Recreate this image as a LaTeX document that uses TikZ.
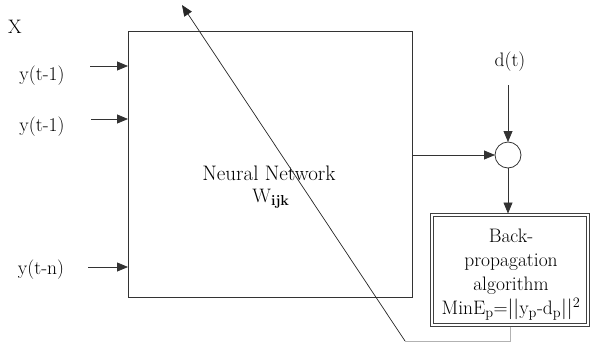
\documentclass[tikz,border=0pt]{standalone}
\usetikzlibrary{arrows.meta}
\begin{document}
\begin{tikzpicture}[x=1pt,y=-1pt,
  every node/.style={inner sep=0pt, outer sep=0pt},
  txt/.style={font=\fontsize{19.5}{24}\selectfont, text=black},
  bigtxt/.style={font=\fontsize{21}{24}\selectfont, text=black},
  wire/.style={line width=0.8pt, draw=black!80},
  arr/.style={wire, -{Triangle[length=11pt,width=9pt]}},
  netbox/.style={draw=black!80, line width=0.8pt, minimum width=284pt, minimum height=266pt},
  sumnode/.style={circle, draw=black!80, line width=0.8pt, minimum size=26pt},
  bpbox/.style={draw=black!75, line width=0.7pt, minimum width=159pt, minimum height=113pt},
  bpinner/.style={draw=black!75, line width=0.6pt},
  faint/.style={line width=0.6pt, draw=black!30}]
\useasboundingbox (0,0) rectangle (592,343);

% network block and its label
\node[netbox] (nn) at (270,164) {};
\node[bigtxt] (nnlabel) at (269,173) {Neural Network};
\node[txt] (wijk) at (271,199) {W$_{\mathbf{ijk}}$};

% inputs
\node[txt] (xlab) at (15,27) {X};
\node[txt] (y1) at (42,76) {y(t-1)};
\node[txt] (y2) at (42,127) {y(t-1)};
\node[txt] (yn) at (41,270) {y(t-n)};
\coordinate (in1) at (90,66);
\coordinate (in2) at (91,119);
\coordinate (inn) at (88,267);
\draw[arr] (in1) -- (in1 -| nn.west);
\draw[arr] (in2) -- (in2 -| nn.west);
\draw[arr] (inn) -- (inn -| nn.west);

% comparison with target
\node[sumnode] (sum) at (508,155) {};
\node[txt] (dt) at (510,62) {d(t)};
\coordinate (dtop) at (508,85);
\draw[arr] (dtop) -- (sum.north);
\draw[arr] (nn.east |- sum) -- (sum.west);

% learning block (double frame)
\node[bpbox] (bp) at (510,270) {};
\draw[bpinner] ([shift={(3,3)}]bp.north west) rectangle ([shift={(-3,-3)}]bp.south east);
\node[txt, align=center] (bptext) at (511,275) {Back-\\propagation\\algorithm\\MinE$_{\mathrm{p}}$=$|$$|$y$_{\mathrm{p}}$-d$_{\mathrm{p}}$$|$$|^2$};
\draw[arr] (sum.south) -- (sum.south |- bp.north);

% weight update path
\coordinate (fb1) at (bp.south |- 0,341);
\coordinate (fb2) at (405,341);
\coordinate (fbtip) at (182,5);
\draw[faint] (bp.south) -- (fb1) -- (fb2);
\draw[line width=0.7pt, draw=black!85, -{Triangle[length=11pt,width=9pt]}] (fb2) -- (fbtip);
\end{tikzpicture}
\end{document}
